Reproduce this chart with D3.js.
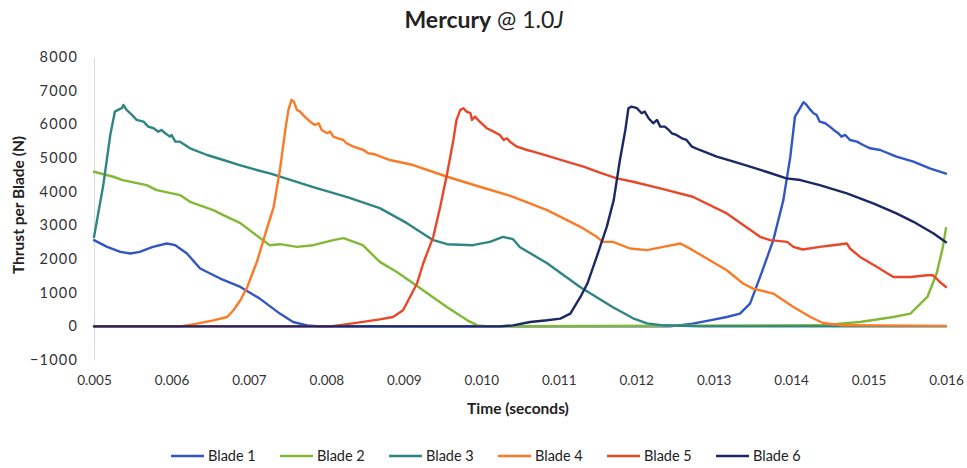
<!DOCTYPE html>
<html>
<head>
<meta charset="utf-8">
<script src="https://cdn.jsdelivr.net/npm/d3@7/dist/d3.min.js"></script>
<style>
  html, body { margin: 0; padding: 0; background: #fff; }
  svg { display: block; }
  text { font-family: Lato, "Open Sans", "Liberation Sans", sans-serif; fill: #333; }
</style>
</head>
<body>
<svg id="chart" width="967" height="468"></svg>
<script>
// Thrust per blade over time, one series per blade: [time (s), thrust (N)]
const blade1 = [[0.00500,2559],[0.00517,2360],[0.00534,2211],[0.00547,2164],[0.00559,2211],[0.00576,2360],[0.00594,2461],[0.00605,2410],[0.00620,2164],[0.00637,1717],[0.00663,1420],[0.00689,1170],[0.00714,824],[0.00740,378],[0.00757,128],[0.00775,30],[0.00792,0],[0.01244,0],[0.01273,80],[0.01295,179],[0.01317,277],[0.01334,378],[0.01347,676],[0.01360,1467],[0.01377,2559],[0.01390,3750],[0.01399,5038],[0.01405,6229],[0.01409,6378],[0.01416,6657],[0.01420,6577],[0.01425,6428],[0.01429,6330],[0.01433,6279],[0.01437,6080],[0.01444,6032],[0.01450,5931],[0.01455,5833],[0.01461,5735],[0.01465,5634],[0.01470,5684],[0.01476,5535],[0.01485,5485],[0.01493,5387],[0.01502,5288],[0.01515,5238],[0.01536,5038],[0.01558,4890],[0.01579,4693],[0.01600,4538]];

const blade2 = [[0.00500,4592],[0.00525,4443],[0.00537,4345],[0.00568,4196],[0.00581,4047],[0.00611,3899],[0.00624,3699],[0.00654,3452],[0.00667,3303],[0.00689,3065],[0.00718,2560],[0.00727,2410],[0.00740,2440],[0.00762,2360],[0.00783,2410],[0.00809,2560],[0.00822,2619],[0.00840,2470],[0.00847,2410],[0.00869,1914],[0.00891,1616],[0.00912,1280],[0.00956,565],[0.00982,179],[0.00995,30],[0.01011,0],[0.01437,30],[0.01489,128],[0.01532,277],[0.01554,378],[0.01576,872],[0.01588,1577],[0.01596,2360],[0.01600,2916]];

const blade3 = [[0.00500,2649],[0.00512,4196],[0.00521,5684],[0.00527,6378],[0.00531,6428],[0.00536,6479],[0.00538,6577],[0.00542,6428],[0.00549,6279],[0.00555,6131],[0.00564,6080],[0.00570,5931],[0.00577,5884],[0.00583,5782],[0.00587,5833],[0.00592,5735],[0.00598,5634],[0.00600,5684],[0.00605,5485],[0.00611,5485],[0.00624,5288],[0.00646,5089],[0.00667,4940],[0.00688,4791],[0.00710,4643],[0.00727,4544],[0.00783,4137],[0.00827,3839],[0.00869,3512],[0.00904,3065],[0.00938,2560],[0.00956,2440],[0.00989,2410],[0.01011,2509],[0.01028,2658],[0.01041,2589],[0.01050,2351],[0.01085,1875],[0.01128,1161],[0.01170,565],[0.01196,238],[0.01214,89],[0.01235,30],[0.01283,0],[0.01600,0]];

const blade4 = [[0.00500,0],[0.00611,0],[0.00633,80],[0.00654,179],[0.00672,277],[0.00680,476],[0.00689,774],[0.00698,1170],[0.00711,1964],[0.00723,2887],[0.00732,3550],[0.00740,4643],[0.00747,5833],[0.00751,6428],[0.00755,6726],[0.00758,6675],[0.00762,6428],[0.00766,6378],[0.00772,6229],[0.00779,6080],[0.00785,5982],[0.00790,6032],[0.00794,5833],[0.00801,5735],[0.00805,5782],[0.00809,5634],[0.00815,5586],[0.00822,5535],[0.00826,5437],[0.00835,5336],[0.00848,5238],[0.00854,5140],[0.00861,5119],[0.00882,4940],[0.00912,4791],[0.00956,4443],[0.00998,4146],[0.01041,3848],[0.01085,3452],[0.01128,2955],[0.01149,2658],[0.01157,2509],[0.01170,2509],[0.01192,2312],[0.01214,2262],[0.01235,2360],[0.01257,2461],[0.01273,2262],[0.01295,1964],[0.01317,1667],[0.01338,1271],[0.01351,1122],[0.01377,973],[0.01403,574],[0.01425,277],[0.01441,98],[0.01467,30],[0.01600,15]];

const blade5 = [[0.00500,0],[0.00805,0],[0.00834,89],[0.00869,208],[0.00886,277],[0.00899,476],[0.00908,872],[0.00917,1271],[0.00925,1866],[0.00938,2658],[0.00947,3550],[0.00956,4544],[0.00964,5535],[0.00968,6131],[0.00973,6428],[0.00977,6479],[0.00981,6378],[0.00986,6330],[0.00988,6131],[0.00992,6229],[0.00998,6080],[0.01007,5884],[0.01016,5782],[0.01024,5684],[0.01029,5535],[0.01033,5586],[0.01037,5485],[0.01046,5336],[0.01059,5238],[0.01067,5187],[0.01089,5038],[0.01110,4890],[0.01132,4741],[0.01153,4568],[0.01175,4396],[0.01196,4294],[0.01231,4098],[0.01273,3848],[0.01317,3354],[0.01360,2658],[0.01373,2559],[0.01395,2509],[0.01403,2360],[0.01415,2283],[0.01437,2360],[0.01454,2410],[0.01472,2461],[0.01476,2312],[0.01489,2062],[0.01511,1765],[0.01532,1467],[0.01554,1467],[0.01576,1518],[0.01583,1518],[0.01592,1318],[0.01600,1170]];

const blade6 = [[0.00500,0],[0.01024,0],[0.01041,30],[0.01063,128],[0.01085,179],[0.01102,229],[0.01115,378],[0.01128,872],[0.01137,1271],[0.01149,2062],[0.01162,2955],[0.01171,3750],[0.01179,4940],[0.01186,5833],[0.01190,6479],[0.01194,6526],[0.01201,6479],[0.01207,6330],[0.01211,6378],[0.01216,6181],[0.01222,6032],[0.01227,6131],[0.01231,5931],[0.01237,5931],[0.01242,5833],[0.01246,5735],[0.01252,5684],[0.01259,5586],[0.01265,5535],[0.01272,5336],[0.01282,5238],[0.01304,5038],[0.01326,4890],[0.01347,4741],[0.01368,4592],[0.01394,4396],[0.01412,4345],[0.01437,4196],[0.01472,3949],[0.01506,3652],[0.01536,3354],[0.01558,3104],[0.01584,2759],[0.01600,2500]];

const seriesNames = ["Blade 1", "Blade 2", "Blade 3", "Blade 4", "Blade 5", "Blade 6"];
const seriesData = [blade1, blade2, blade3, blade4, blade5, blade6];
const seriesColors = ["#3256c4", "#82b833", "#2e8583", "#fb7a26", "#e9472a", "#1b2863"];

const xTicks = [0.005, 0.006, 0.007, 0.008, 0.009, 0.010, 0.011, 0.012, 0.013, 0.014, 0.015, 0.016];
const yTicks = [-1000, 0, 1000, 2000, 3000, 4000, 5000, 6000, 7000, 8000];

const svg = d3.select("#chart");
const plot = { left: 94, right: 946, top: 57, bottom: 360 };

const x = d3.scaleLinear().domain([0.005, 0.016]).range([plot.left, plot.right]);
const y = d3.scaleLinear().domain([-1000, 8000]).range([plot.bottom, plot.top]);

// Title
const title = svg.append("text")
  .attr("x", 484).attr("y", 28)
  .attr("text-anchor", "middle")
  .style("font-size", "23px")
  .style("fill", "#222");
title.append("tspan").text("Mercury").style("font-weight", "bold");
title.append("tspan").text(" @ 1.0");
title.append("tspan").text("J").style("font-style", "italic");

// Vertical axis
const yAxis = d3.axisLeft(y).tickValues(yTicks).tickSize(0).tickPadding(16).tickFormat(d3.format("d"));
const gy = svg.append("g").attr("transform", `translate(${plot.left},0)`).call(yAxis);
gy.select(".domain").attr("stroke", "#d9d9d9").attr("stroke-width", 1);
gy.selectAll("text")
  .style("font-size", "14.5px")
  .style("letter-spacing", "1.2px")
  .style("fill", "#333")
  .style("font-family", "Lato, 'Open Sans', sans-serif");

// Horizontal axis line through zero, tick labels along the bottom
svg.append("line")
  .attr("x1", plot.left).attr("x2", plot.right)
  .attr("y1", y(0)).attr("y2", y(0))
  .attr("stroke", "#d9d9d9");

const xAxis = d3.axisBottom(x).tickValues(xTicks).tickSize(0).tickPadding(15).tickFormat(d3.format(".3f"));
const gx = svg.append("g").attr("transform", `translate(0,${plot.bottom})`).call(xAxis);
gx.select(".domain").remove();
gx.selectAll("text")
  .style("font-size", "13.5px")
  .style("fill", "#333")
  .style("font-family", "Lato, 'Open Sans', sans-serif");

// Axis titles
svg.append("text")
  .attr("transform", `translate(24,205) rotate(-90)`)
  .attr("text-anchor", "middle")
  .style("font-size", "15.5px")
  .style("font-weight", "bold")
  .style("fill", "#222")
  .text("Thrust per Blade (N)");

svg.append("text")
  .attr("x", 518).attr("y", 414)
  .attr("text-anchor", "middle")
  .style("font-size", "15.5px")
  .style("font-weight", "bold")
  .style("fill", "#222")
  .text("Time (seconds)");

// Series lines
const line = d3.line().x(d => x(d[0])).y(d => y(d[1]));
svg.append("g").selectAll("path")
  .data(seriesData)
  .join("path")
  .attr("d", line)
  .attr("fill", "none")
  .attr("stroke", (d, i) => seriesColors[i])
  .attr("stroke-width", 2.4)
  .attr("stroke-linejoin", "round")
  .attr("stroke-linecap", "round");

// Legend
const legend = svg.append("g").attr("transform", "translate(171,456)");
const item = legend.selectAll("g")
  .data(seriesNames)
  .join("g")
  .attr("transform", (d, i) => `translate(${i * 109},0)`);
item.append("line")
  .attr("x1", 0).attr("x2", 33).attr("y1", 0).attr("y2", 0)
  .attr("stroke", (d, i) => seriesColors[i])
  .attr("stroke-width", 2.5);
item.append("text")
  .attr("x", 37).attr("y", 5)
  .style("font-size", "14.5px")
  .style("fill", "#222")
  .text(d => d);
</script>
</body>
</html>
